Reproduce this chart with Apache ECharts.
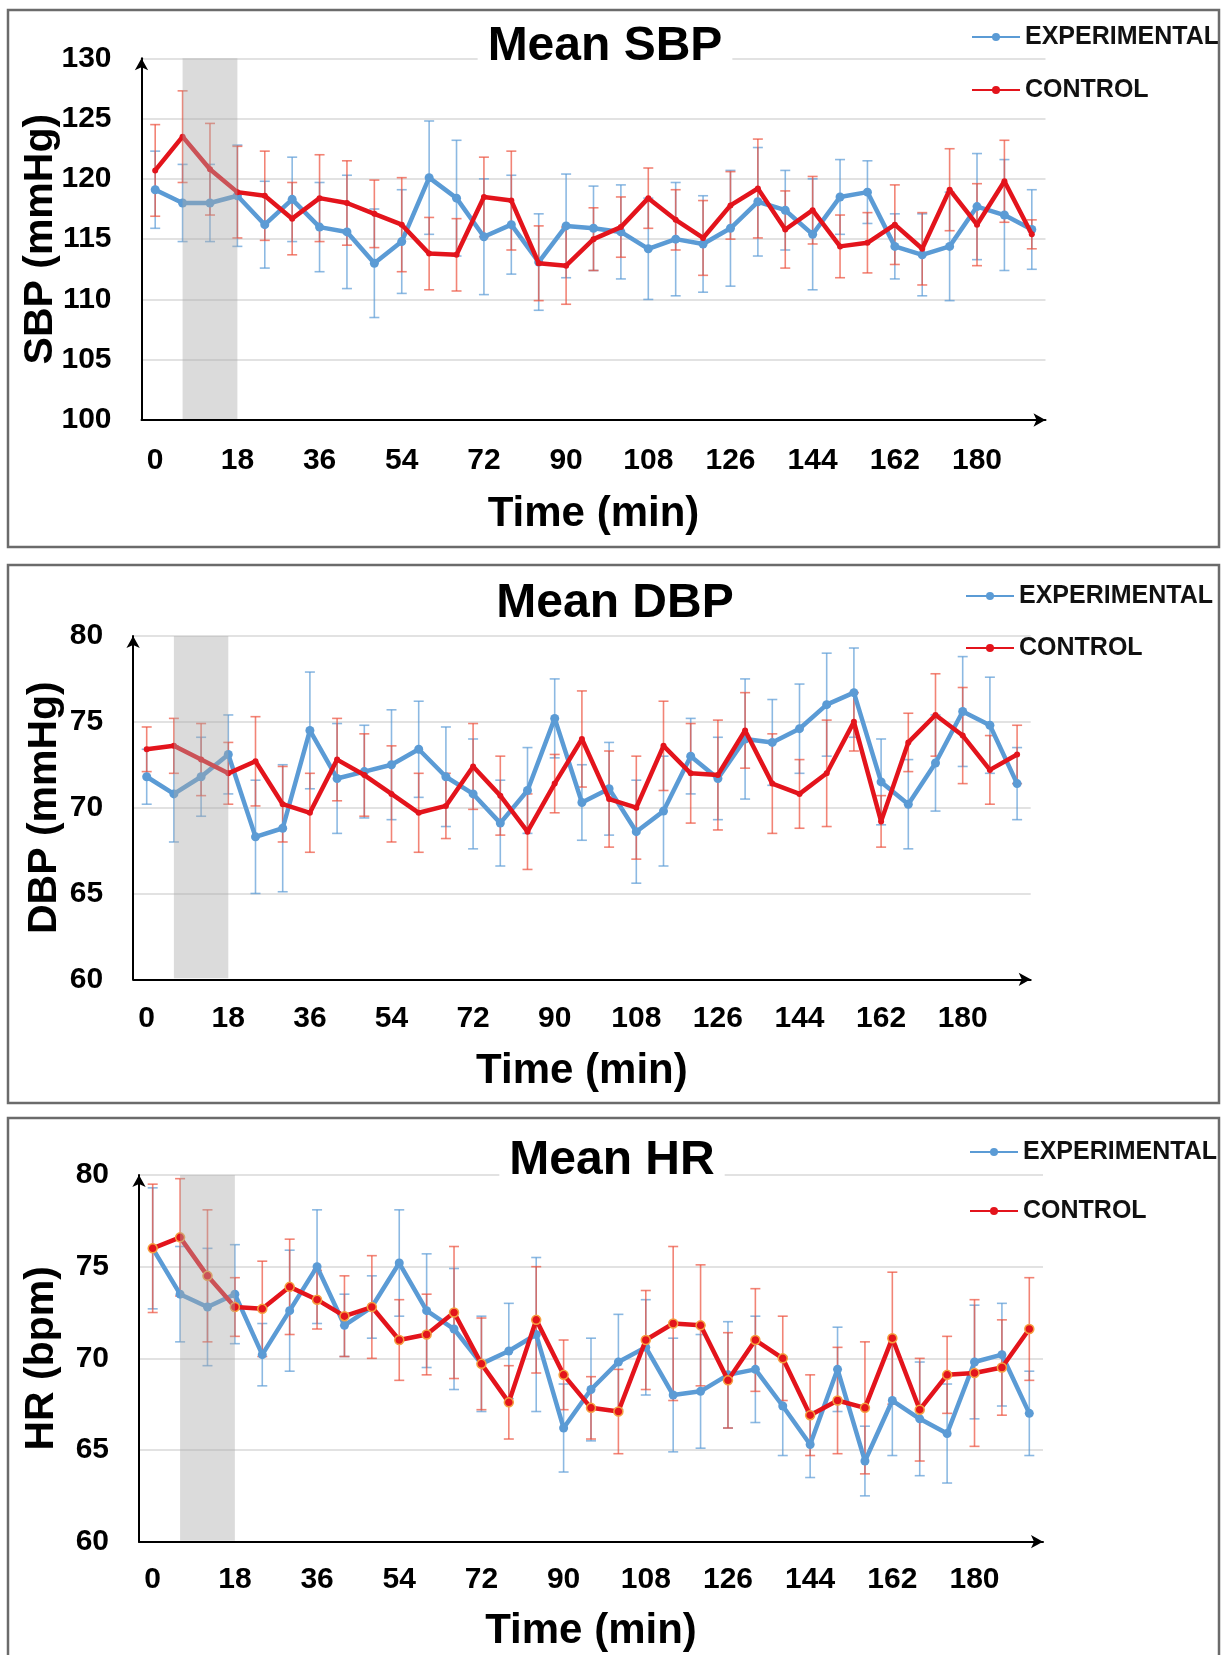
<!DOCTYPE html>
<html>
<head>
<meta charset="utf-8">
<title>Mean SBP / DBP / HR</title>
<script src="https://cdn.jsdelivr.net/npm/echarts@6/dist/echarts.min.js"></script>
<style>
  html, body { margin: 0; padding: 0; background: #fff; }
  #chart { width: 1224px; height: 1655px; }
</style>
</head>
<body>
<div id="chart"></div>
<script>
// time points (min), one every 6 min
const times = ['0', '6', '12', '18', '24', '30', '36', '42', '48', '54', '60', '66', '72', '78', '84', '90',
  '96', '102', '108', '114', '120', '126', '132', '138', '144', '150', '156', '162', '168', '174', '180', '186', '192']
const shadeTimes = ['6', '18']

// Mean SBP
const sbpExp = [119.1, 118.0, 118.0, 118.6, 116.2, 118.3, 116.0, 115.6, 113.0, 114.8, 120.1, 118.4, 115.2, 116.2, 113.1, 116.1,
  115.9, 115.6, 114.2, 115.0, 114.6, 115.9, 118.1, 117.4, 115.4, 118.5, 118.9, 114.4, 113.7, 114.4, 117.7, 117.0, 115.8]
const sbpExpErr = [3.2, 3.2, 3.2, 4.2, 3.6, 3.5, 3.7, 4.7, 4.5, 4.3, 4.7, 4.8, 4.8, 4.1, 4.0, 4.3,
  3.5, 3.9, 4.2, 4.7, 4.0, 4.8, 4.5, 3.3, 4.6, 3.1, 2.6, 2.7, 3.4, 4.5, 4.4, 4.6, 3.3]
const sbpCtl = [120.7, 123.5, 120.8, 118.9, 118.6, 116.7, 118.4, 118.0, 117.1, 116.2, 113.8, 113.7, 118.5, 118.2, 113.0, 112.8,
  115.0, 116.0, 118.4, 116.6, 115.1, 117.8, 119.2, 115.8, 117.4, 114.4, 114.7, 116.2, 114.2, 119.1, 116.2, 119.8, 115.4]
const sbpCtlErr = [3.8, 3.8, 3.8, 3.8, 3.7, 3.0, 3.6, 3.5, 2.8, 3.9, 3.0, 3.0, 3.3, 4.1, 3.1, 3.2,
  2.6, 2.5, 2.5, 2.5, 3.1, 2.8, 4.1, 3.2, 2.8, 2.6, 2.5, 3.3, 3.0, 3.4, 3.4, 3.4, 1.2]

// Mean DBP
const dbpExp = [71.8, 70.8, 71.8, 73.1, 68.3, 68.8, 74.5, 71.7, 72.1, 72.5, 73.4, 71.8, 70.8, 69.1, 71.0, 75.2,
  70.3, 71.1, 68.6, 69.8, 73.0, 71.7, 74.0, 73.8, 74.6, 76.0, 76.7, 71.5, 70.2, 72.6, 75.6, 74.8, 71.4]
const dbpExpErr = [1.6, 2.8, 2.3, 2.3, 3.3, 3.7, 3.4, 3.2, 2.7, 3.2, 2.8, 2.9, 3.2, 2.5, 2.5, 2.3,
  2.2, 2.7, 3.0, 3.2, 2.2, 2.4, 3.5, 2.5, 2.6, 3.0, 2.6, 2.5, 2.6, 2.8, 3.2, 2.8, 2.1]
const dbpCtl = [73.4, 73.6, 72.8, 72.0, 72.7, 70.2, 69.7, 72.8, 71.9, 70.8, 69.7, 70.1, 72.4, 70.7, 68.6, 71.4,
  74.0, 70.5, 70.0, 73.6, 72.0, 71.9, 74.5, 71.4, 70.8, 72.0, 75.0, 69.2, 73.8, 75.4, 74.2, 72.2, 73.1]
const dbpCtlErr = [1.3, 1.6, 2.1, 1.8, 2.6, 2.2, 2.3, 2.4, 2.4, 2.8, 2.3, 1.9, 2.5, 2.3, 2.2, 1.7,
  2.8, 2.8, 3.0, 2.6, 2.9, 3.2, 2.2, 2.9, 2.0, 3.1, 1.7, 1.5, 1.7, 2.4, 2.8, 2.0, 1.7]

// Mean HR
const hrExp = [76.0, 73.5, 72.8, 73.5, 70.2, 72.6, 75.0, 71.8, 72.8, 75.2, 72.6, 71.6, 69.7, 70.4, 71.3, 66.2,
  68.3, 69.8, 70.6, 68.0, 68.2, 69.1, 69.4, 67.4, 65.3, 69.4, 64.4, 67.7, 66.7, 65.9, 69.8, 70.2, 67.0]
const hrExpErr = [3.3, 2.6, 3.2, 2.7, 1.7, 3.3, 3.1, 1.7, 1.7, 2.9, 3.1, 3.3, 2.6, 2.6, 4.2, 2.4,
  2.8, 2.6, 2.6, 3.1, 3.1, 2.9, 2.9, 2.7, 1.8, 2.3, 1.9, 3.0, 3.1, 2.7, 3.1, 2.8, 2.3]
const hrCtl = [76.0, 76.6, 74.5, 72.8, 72.7, 73.9, 73.2, 72.3, 72.8, 71.0, 71.3, 72.5, 69.7, 67.6, 72.1, 69.1,
  67.3, 67.1, 71.0, 71.9, 71.8, 68.8, 71.0, 70.0, 66.9, 67.7, 67.3, 71.1, 67.2, 69.1, 69.2, 69.5, 71.6]
const hrCtlErr = [3.5, 3.2, 3.6, 1.6, 2.6, 2.6, 1.6, 2.2, 2.8, 2.2, 2.2, 3.6, 2.5, 2.0, 2.9, 1.9,
  1.7, 2.3, 2.7, 4.2, 3.3, 2.6, 2.8, 2.3, 2.2, 2.9, 3.6, 3.6, 2.8, 2.1, 4.0, 2.6, 2.8]

const FONT = "'Liberation Sans', Arial, sans-serif"
const BLUE = '#5b9bd5'
const RED = '#e3141c'
const BLUE_ERR = 'rgba(91,155,213,0.7)'
const RED_ERR = 'rgba(236,80,60,0.7)'

// layout of the three boxes (page pixels)
const panels = [
  {
    title: 'Mean SBP', yName: 'SBP (mmHg)', min: 100, max: 130,
    exp: sbpExp, expErr: sbpExpErr, ctl: sbpCtl, ctlErr: sbpCtlErr,
    box: [8, 10, 1211, 537], grid: { left: 141.5, top: 58.3, width: 904, height: 361.7 },
    titleX: 595, titleY: 22, legend: { left: 971, top: 24, gap: 27 }, labelMargin: 26, nameGap: 73, yNameGap: 80
  },
  {
    title: 'Mean DBP', yName: 'DBP (mmHg)', min: 60, max: 80,
    exp: dbpExp, expErr: dbpExpErr, ctl: dbpCtl, ctlErr: dbpCtlErr,
    box: [8, 565, 1211, 538], grid: { left: 133.1, top: 636, width: 897.6, height: 343.3 },
    titleX: 605, titleY: 579, legend: { left: 965, top: 583, gap: 26 }, labelMargin: 24, nameGap: 71, yNameGap: 68
  },
  {
    title: 'Mean HR', yName: 'HR (bpm)', min: 60, max: 80, ctlBorder: '#f5a040',
    exp: hrExp, expErr: hrExpErr, ctl: hrCtl, ctlErr: hrCtlErr,
    box: [8, 1118, 1211, 545], grid: { left: 139, top: 1175, width: 904, height: 366.7 },
    titleX: 602, titleY: 1136, legend: { left: 969, top: 1139, gap: 33 }, labelMargin: 23, nameGap: 69, yNameGap: 77
  }
]

function errorBars(color) {
  return function (params, api) {
    const lo = api.coord([api.value(0), api.value(1)])
    const hi = api.coord([api.value(0), api.value(2)])
    const w = 5
    const style = { stroke: color, lineWidth: 1.6 }
    return {
      type: 'group',
      children: [
        { type: 'line', shape: { x1: lo[0], y1: lo[1], x2: hi[0], y2: hi[1] }, style: style },
        { type: 'line', shape: { x1: lo[0] - w, y1: lo[1], x2: lo[0] + w, y2: lo[1] }, style: style },
        { type: 'line', shape: { x1: hi[0] - w, y1: hi[1], x2: hi[0] + w, y2: hi[1] }, style: style }
      ]
    }
  }
}

const grid = [], xAxis = [], yAxis = [], series = [], title = [], legend = [], graphic = []

panels.forEach(function (p, k) {
  grid.push(Object.assign({ outerBoundsMode: 'none', containLabel: false }, p.grid))
  title.push({
    text: p.title, left: p.titleX, top: p.titleY, textAlign: 'center',
    backgroundColor: '#fff', padding: [0, 10],
    textStyle: { fontFamily: FONT, fontSize: 48, fontWeight: 'bold', color: '#000', lineHeight: 50 }
  })
  legend.push({
    data: ['EXPERIMENTAL', 'CONTROL'], orient: 'vertical', left: p.legend.left, top: p.legend.top,
    itemGap: p.legend.gap, itemWidth: 48, itemHeight: 10, padding: 0, selectedMode: false,
    textStyle: { fontFamily: FONT, fontSize: 25, fontWeight: 'bold', color: '#111', lineHeight: 26 }
  })
  graphic.push({
    type: 'rect', shape: { x: p.box[0], y: p.box[1], width: p.box[2], height: p.box[3] },
    style: { fill: 'none', stroke: '#6b6b6b', lineWidth: 2.5 }, z: 100
  })
  xAxis.push({
    type: 'category', gridIndex: k, data: times, boundaryGap: true,
    name: 'Time (min)', nameLocation: 'middle', nameGap: p.nameGap, nameMoveOverlap: false,
    nameTextStyle: { fontFamily: FONT, fontSize: 42, fontWeight: 'bold', color: '#000' },
    axisLine: { lineStyle: { color: '#000', width: 2 }, symbol: ['none', 'arrow'], symbolSize: [10, 12] },
    axisTick: { show: false },
    axisLabel: { interval: 2, margin: p.labelMargin, fontFamily: FONT, fontSize: 30, fontWeight: 'bold', color: '#000' },
    splitLine: { show: false }
  })
  yAxis.push({
    type: 'value', gridIndex: k, min: p.min, max: p.max, interval: 5,
    name: p.yName, nameLocation: 'middle', nameGap: p.yNameGap, nameMoveOverlap: false,
    nameTextStyle: { fontFamily: FONT, fontSize: 41, fontWeight: 'bold', color: '#000' },
    axisLine: { show: true, lineStyle: { color: '#000', width: 2 }, symbol: ['none', 'arrow'], symbolSize: [10, 12] },
    axisTick: { show: false },
    axisLabel: { margin: 30, fontFamily: FONT, fontSize: 30, fontWeight: 'bold', color: '#000' },
    splitLine: { show: true, lineStyle: { color: '#d9d9d9', width: 1.5 } }
  })

  // error bars
  series.push({
    name: 'exp-err-' + k, type: 'custom', xAxisIndex: k, yAxisIndex: k, silent: true, z: 2,
    renderItem: errorBars(BLUE_ERR), encode: { x: 0, y: [1, 2] },
    data: p.exp.map(function (v, i) { return [i, v - p.expErr[i], v + p.expErr[i]] })
  })
  series.push({
    name: 'ctl-err-' + k, type: 'custom', xAxisIndex: k, yAxisIndex: k, silent: true, z: 2,
    renderItem: errorBars(RED_ERR), encode: { x: 0, y: [1, 2] },
    data: p.ctl.map(function (v, i) { return [i, v - p.ctlErr[i], v + p.ctlErr[i]] })
  })

  // mean lines
  series.push({
    name: 'EXPERIMENTAL', type: 'line', xAxisIndex: k, yAxisIndex: k, data: p.exp, z: 3,
    symbol: 'circle', symbolSize: 9, color: BLUE,
    lineStyle: { width: 4.5, color: BLUE }, itemStyle: { color: BLUE }, emphasis: { disabled: true }
  })
  series.push({
    name: 'CONTROL', type: 'line', xAxisIndex: k, yAxisIndex: k, data: p.ctl, z: 4,
    symbol: 'circle', symbolSize: p.ctlBorder ? 9 : 6, color: RED,
    lineStyle: { width: 4.5, color: RED },
    itemStyle: p.ctlBorder ? { color: RED, borderColor: p.ctlBorder, borderWidth: 1.5 } : { color: RED },
    emphasis: { disabled: true }
  })

  // grey band laid over the first minutes
  series.push({
    name: 'shade-' + k, type: 'custom', xAxisIndex: k, yAxisIndex: k, silent: true, z: 5,
    encode: { x: [0, 1] },
    data: [[times.indexOf(shadeTimes[0]), times.indexOf(shadeTimes[1])]],
    renderItem: function (params, api) {
      const a = api.coord([api.value(0), p.max])
      const b = api.coord([api.value(1), p.min])
      return {
        type: 'rect',
        shape: { x: a[0], y: a[1], width: b[0] - a[0], height: b[1] - a[1] - 1 },
        style: { fill: 'rgba(170,170,170,0.42)' }
      }
    }
  })
})

const myChart = echarts.init(document.getElementById('chart'))
myChart.setOption({
  backgroundColor: '#fff',
  animation: false,
  title: title,
  legend: legend,
  grid: grid,
  xAxis: xAxis,
  yAxis: yAxis,
  series: series,
  graphic: graphic
})
window.addEventListener('resize', function () {
  myChart.resize()
})
</script>
</body>
</html>
